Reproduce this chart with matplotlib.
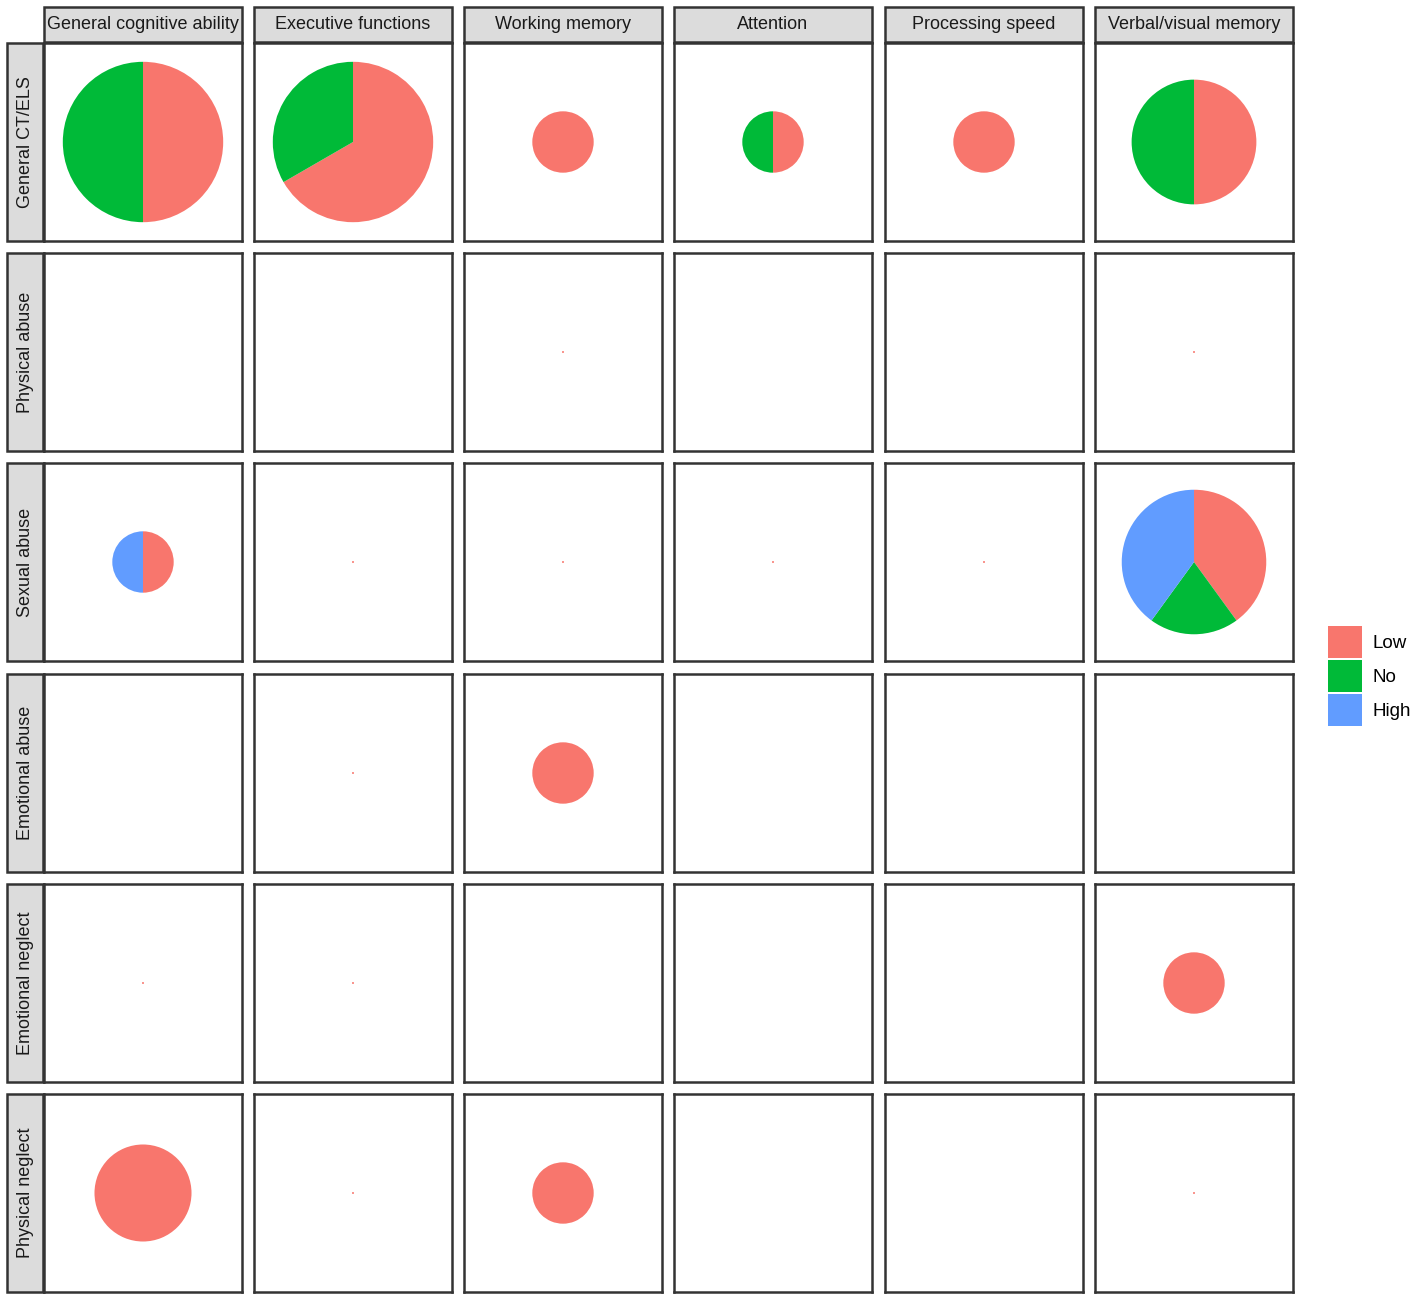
import numpy as np
import matplotlib
matplotlib.use('Agg')
import matplotlib.pyplot as plt
from matplotlib.patches import Rectangle, Patch

plt.rcParams['font.family'] = ['Liberation Sans', 'DejaVu Sans']

domains = ['General cognitive ability', 'Executive functions', 'Working memory',
           'Attention', 'Processing speed', 'Verbal/visual memory']
exposures = ['General CT/ELS', 'Physical abuse', 'Sexual abuse',
             'Emotional abuse', 'Emotional neglect', 'Physical neglect']
categories = ['Low', 'No', 'High']
colors = ['#F8766D', '#00BA38', '#619CFF']

# slice shares per panel (rows = exposures, cols = domains)
low = np.array([[1, 2, 1, 1, 1, 1],
                [0, 0, 1, 0, 0, 1],
                [1, 1, 1, 1, 1, 2],
                [0, 1, 1, 0, 0, 0],
                [1, 1, 0, 0, 0, 1],
                [1, 1, 1, 0, 0, 1]])
no = np.array([[1, 1, 0, 1, 0, 1],
               [0, 0, 0, 0, 0, 0],
               [0, 0, 0, 0, 0, 1],
               [0, 0, 0, 0, 0, 0],
               [0, 0, 0, 0, 0, 0],
               [0, 0, 0, 0, 0, 0]])
high = np.array([[0, 0, 0, 0, 0, 0],
                 [0, 0, 0, 0, 0, 0],
                 [1, 0, 0, 0, 0, 2],
                 [0, 0, 0, 0, 0, 0],
                 [0, 0, 0, 0, 0, 0],
                 [0, 0, 0, 0, 0, 0]])
# pie size (radius, panel half-width = 1); 0 = no pie, tiny = dot
size = np.array([[0.81, 0.81, 0.31, 0.31, 0.31, 0.63],
                 [0.0, 0.0, 0.01, 0.0, 0.0, 0.01],
                 [0.31, 0.01, 0.01, 0.01, 0.01, 0.73],
                 [0.0, 0.01, 0.31, 0.0, 0.0, 0.0],
                 [0.01, 0.01, 0.0, 0.0, 0.0, 0.31],
                 [0.49, 0.01, 0.31, 0.0, 0.0, 0.01]])

W, H = 1417, 1300
fig = plt.figure(figsize=(W / 100, H / 100), dpi=100)

col_x = [44, 254, 464, 674, 885, 1095]
row_y = [43, 253, 463, 674, 884, 1094]
pw = 198

for i in range(6):
    for j in range(6):
        x0, y0 = col_x[j], row_y[i]
        ax = fig.add_axes([x0 / W, 1 - (y0 + pw) / H, pw / W, pw / H])
        vals = [low[i, j], no[i, j], high[i, j]]
        if size[i, j] > 0:
            v = [a for a in vals if a > 0]
            c = [colors[k] for k in range(3) if vals[k] > 0]
            ax.pie(v, colors=c, radius=size[i, j], startangle=90,
                   counterclock=False, wedgeprops=dict(linewidth=0))
        ax.set_frame_on(True)
        ax.set_xlim(-1, 1)
        ax.set_ylim(-1, 1)
        ax.set_aspect('equal')
        ax.set_xticks([])
        ax.set_yticks([])
        for s in ax.spines.values():
            s.set_visible(True)
            s.set_color('#333333')
            s.set_linewidth(1.8)

# top strips
for j in range(6):
    x0 = col_x[j]
    fig.add_artist(Rectangle((x0 / W, 1 - 42 / H), pw / W, 35 / H,
                             transform=fig.transFigure, facecolor='#dcdcdc',
                             edgecolor='#333333', linewidth=1.8))
    fig.text((x0 + pw / 2) / W, 1 - 24.5 / H, domains[j], ha='center',
             va='center', fontsize=13, color='#1a1a1a')

# side strips
for i in range(6):
    y0 = row_y[i]
    fig.add_artist(Rectangle((7 / W, 1 - (y0 + pw) / H), 36 / W, pw / H,
                             transform=fig.transFigure, facecolor='#dcdcdc',
                             edgecolor='#333333', linewidth=1.8))
    fig.text(26 / W, 1 - (y0 + pw / 2) / H, exposures[i], ha='center',
             va='center', rotation=90, fontsize=13, color='#1a1a1a')

handles = [Patch(facecolor=colors[k], edgecolor='none', label=categories[k])
           for k in range(3)]
fig.legend(handles=handles, loc='center left',
           bbox_to_anchor=(1328 / W, 1 - 676 / H), frameon=False,
           fontsize=13.5, handlelength=1.8, handleheight=2.3,
           handletextpad=0.6, labelspacing=0.08, borderaxespad=0,
           borderpad=0)

fig.savefig('out.png', dpi=100)
